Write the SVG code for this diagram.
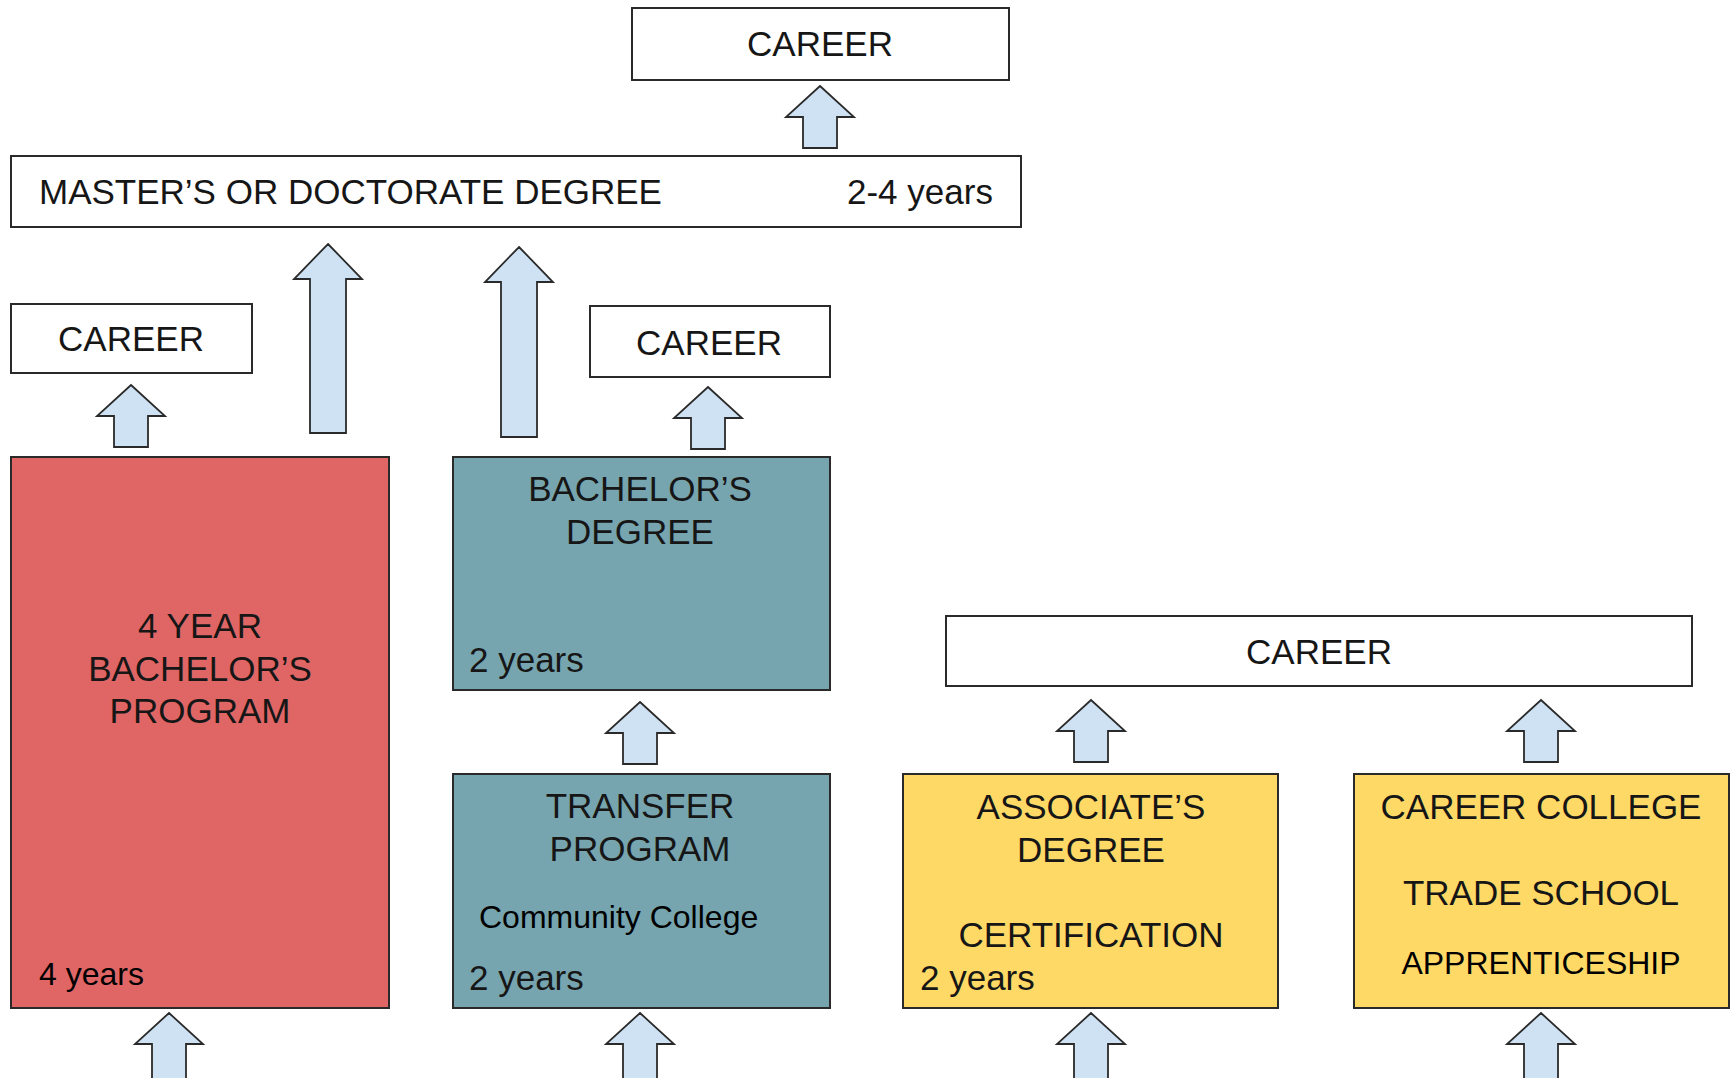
<svg xmlns="http://www.w3.org/2000/svg" xmlns:xlink="http://www.w3.org/1999/xlink" width="1731" height="1078" viewBox="0 0 1731 1078">
<style>
.box{stroke:#2a2a2a;stroke-width:2}
.w{fill:#fff}
.red{fill:#e06666}
.teal{fill:#76a5af}
.yel{fill:#ffd966}
.arrow{fill:#cfe2f3;stroke:#2a2a2a;stroke-width:1.8;stroke-linejoin:miter}
text{font-family:"Liberation Sans",Arial,sans-serif;font-size:35px;fill:#161616}
.c{text-anchor:middle}
.k{fill:#000;font-size:32px}
</style>
<defs>
<path id="sa" class="arrow" d="M0,0 L34,31 L17,31 L17,62 L-17,62 L-17,31 L-34,31 Z"/>
<path id="ba" class="arrow" d="M0,0 L34,31 L17,31 L17,72 L-17,72 L-17,31 L-34,31 Z"/>
</defs>
<rect width="1731" height="1078" fill="#fff"/>
<g id="connectors">
<use xlink:href="#sa" x="820" y="86"/>
<use xlink:href="#sa" x="131" y="385"/>
<use xlink:href="#sa" x="708" y="387"/>
<use xlink:href="#sa" x="640" y="702"/>
<use xlink:href="#sa" x="1091" y="700"/>
<use xlink:href="#sa" x="1541" y="700"/>
<path class="arrow" d="M328,244 L362,279 L346,279 L346,433 L310,433 L310,279 L294,279 Z"/>
<path class="arrow" d="M519,247 L553,282 L537,282 L537,437 L501,437 L501,282 L485,282 Z"/>
<use xlink:href="#ba" x="169" y="1013"/>
<use xlink:href="#ba" x="640" y="1013"/>
<use xlink:href="#ba" x="1091" y="1013"/>
<use xlink:href="#ba" x="1541" y="1013"/>
</g>
<g id="career-top">
<rect class="box w" x="632" y="8" width="377" height="72"/>
<text class="c" x="820" y="56">CAREER</text>
</g>
<g id="masters">
<rect class="box w" x="11" y="156" width="1010" height="71"/>
<text x="39" y="204">MASTER’S OR DOCTORATE DEGREE</text>
<text x="847" y="204">2-4 years</text>
</g>
<g id="career-left">
<rect class="box w" x="11" y="304" width="241" height="69"/>
<text class="c" x="131" y="351">CAREER</text>
</g>
<g id="career-mid">
<rect class="box w" x="590" y="306" width="240" height="71"/>
<text class="c" x="709" y="355">CAREER</text>
</g>
<g id="four-year">
<rect class="box red" x="11" y="457" width="378" height="551"/>
<text class="c" x="200" y="638">4 YEAR</text>
<text class="c" x="200" y="681">BACHELOR’S</text>
<text class="c" x="200" y="723">PROGRAM</text>
<text class="k" x="39" y="985">4 years</text>
</g>
<g id="bachelors">
<rect class="box teal" x="453" y="457" width="377" height="233"/>
<text class="c" x="640" y="501">BACHELOR’S</text>
<text class="c" x="640" y="544">DEGREE</text>
<text x="469" y="672">2 years</text>
</g>
<g id="transfer">
<rect class="box teal" x="453" y="774" width="377" height="234"/>
<text class="c" x="640" y="818">TRANSFER</text>
<text class="c" x="640" y="861">PROGRAM</text>
<text class="k" x="479" y="928">Community College</text>
<text x="469" y="990">2 years</text>
</g>
<g id="career-right">
<rect class="box w" x="946" y="616" width="746" height="70"/>
<text class="c" x="1319" y="664">CAREER</text>
</g>
<g id="associates">
<rect class="box yel" x="903" y="774" width="375" height="234"/>
<text class="c" x="1091" y="819">ASSOCIATE’S</text>
<text class="c" x="1091" y="862">DEGREE</text>
<text class="c" x="1091" y="947">CERTIFICATION</text>
<text x="920" y="990">2 years</text>
</g>
<g id="career-college">
<rect class="box yel" x="1354" y="774" width="375" height="234"/>
<text class="c" x="1541" y="819">CAREER COLLEGE</text>
<text class="c" x="1541" y="905">TRADE SCHOOL</text>
<text class="c k" x="1541" y="974">APPRENTICESHIP</text>
</g>
</svg>
